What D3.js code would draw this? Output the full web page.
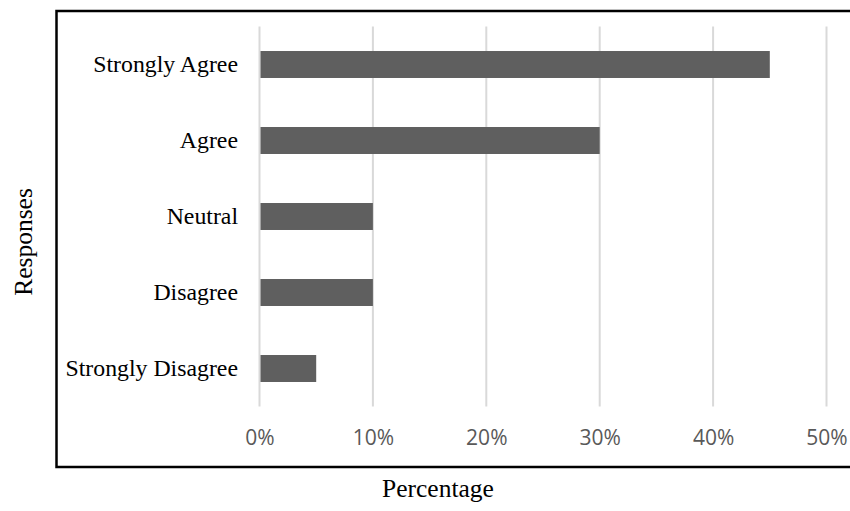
<!DOCTYPE html>
<html>
<head>
<meta charset="utf-8">
<script src="https://d3js.org/d3.v7.min.js"></script>
<style>
  html, body { margin: 0; padding: 0; background: #fff; }
  svg { display: block; }
</style>
</head>
<body>
<div id="chart"></div>
<script>
  // data
  var categories = ['Strongly Agree', 'Agree', 'Neutral', 'Disagree', 'Strongly Disagree']
  var values = [45, 30, 10, 10, 5]
  var xTicks = [0, 10, 20, 30, 40, 50]

  var width = 850
  var height = 511

  var svg = d3.select('#chart')
    .append('svg')
    .attr('width', width)
    .attr('height', height)

  // outer frame
  svg.append('rect')
    .attr('x', 56.5)
    .attr('y', 11)
    .attr('width', 820)
    .attr('height', 456)
    .attr('fill', 'none')
    .attr('stroke', '#000')
    .attr('stroke-width', 2.5)

  var x = d3.scaleLinear()
    .domain([0, 50])
    .range([259.5, 826.5])

  var y = d3.scaleBand()
    .domain(categories)
    .range([26.5, 406.5])
    .paddingInner(0.645)
    .paddingOuter(0.3225)

  // gridlines
  svg.append('g')
    .selectAll('line')
    .data(xTicks)
    .enter()
    .append('line')
    .attr('x1', d => x(d))
    .attr('x2', d => x(d))
    .attr('y1', 26.5)
    .attr('y2', 406.5)
    .attr('stroke', '#d9d9d9')
    .attr('stroke-width', 2)

  // bars
  svg.append('g')
    .selectAll('rect')
    .data(values)
    .enter()
    .append('rect')
    .attr('x', x(0) + 1)
    .attr('y', (d, i) => y(categories[i]))
    .attr('width', d => x(d) - x(0) - 1)
    .attr('height', y.bandwidth())
    .attr('fill', '#5f5f5f')

  // x axis tick labels
  var xAxis = d3.axisBottom(x)
    .tickValues(xTicks)
    .tickFormat(d => d + '%')
    .tickSize(0)
    .tickPadding(0)

  var gx = svg.append('g')
    .attr('transform', 'translate(0,' + 430 + ')')
    .call(xAxis)
  gx.select('.domain').remove()
  gx.selectAll('text')
    .attr('dy', '0.35em')
    .attr('y', 8)
    .attr('font-family', '"Open Sans", sans-serif')
    .attr('font-size', 21)
    .attr('fill', '#595959')

  // category labels
  var yAxis = d3.axisLeft(y)
    .tickSize(0)
    .tickPadding(0)

  var gy = svg.append('g')
    .attr('transform', 'translate(' + 238 + ',0)')
    .call(yAxis)
  gy.select('.domain').remove()
  gy.selectAll('text')
    .attr('dy', '0.32em')
    .attr('font-family', '"Liberation Serif", "Times New Roman", serif')
    .attr('font-size', 23.8)
    .attr('fill', '#000')

  // axis titles
  svg.append('text')
    .attr('x', 438)
    .attr('y', 497)
    .attr('text-anchor', 'middle')
    .attr('font-family', '"Liberation Serif", "Times New Roman", serif')
    .attr('font-size', 25.5)
    .attr('fill', '#000')
    .text('Percentage')

  svg.append('text')
    .attr('transform', 'translate(32,242) rotate(-90)')
    .attr('text-anchor', 'middle')
    .attr('font-family', '"Liberation Serif", "Times New Roman", serif')
    .attr('font-size', 25.5)
    .attr('fill', '#000')
    .text('Responses')
</script>
</body>
</html>
